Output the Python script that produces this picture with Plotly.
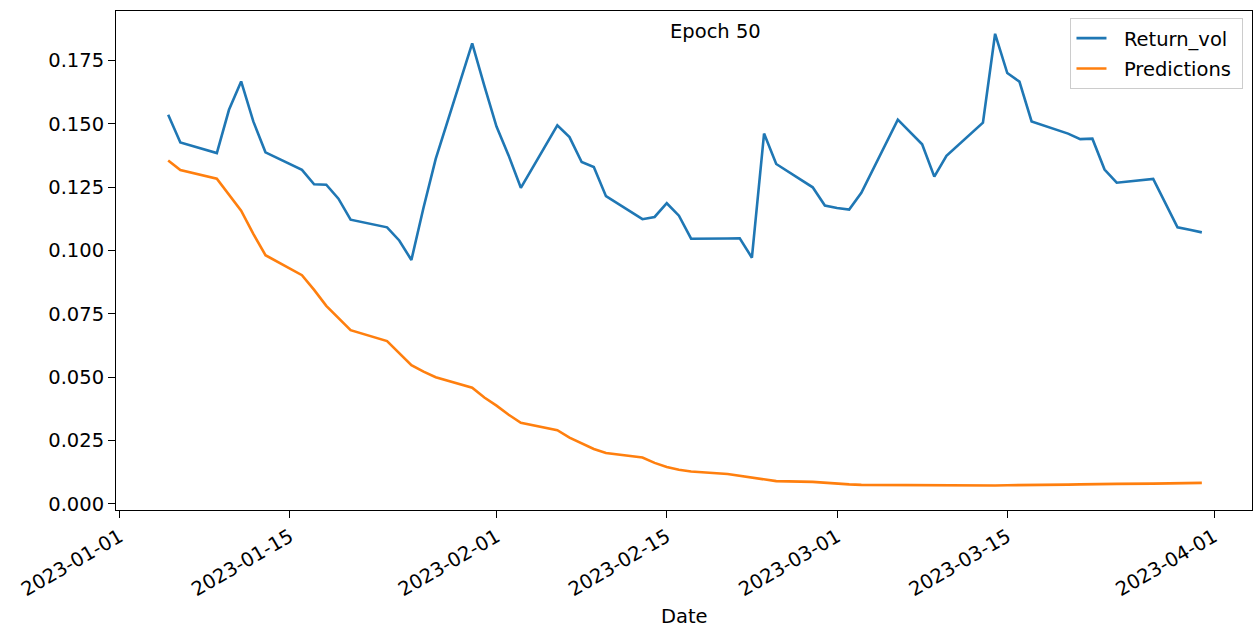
import plotly.graph_objects as go

dates = [
    "2023-01-05", "2023-01-06", "2023-01-09", "2023-01-10", "2023-01-11", "2023-01-12", "2023-01-13",
    "2023-01-16", "2023-01-17", "2023-01-18", "2023-01-19", "2023-01-20", "2023-01-23", "2023-01-24",
    "2023-01-25", "2023-01-26", "2023-01-27", "2023-01-30", "2023-01-31",
    "2023-02-01", "2023-02-02", "2023-02-03", "2023-02-06", "2023-02-07", "2023-02-08", "2023-02-09",
    "2023-02-10", "2023-02-13", "2023-02-14", "2023-02-15", "2023-02-16", "2023-02-17", "2023-02-20",
    "2023-02-21", "2023-02-22", "2023-02-23", "2023-02-24", "2023-02-27", "2023-02-28",
    "2023-03-01", "2023-03-02", "2023-03-03", "2023-03-06", "2023-03-07", "2023-03-08", "2023-03-09",
    "2023-03-10", "2023-03-13", "2023-03-14", "2023-03-15", "2023-03-16", "2023-03-17", "2023-03-20",
    "2023-03-21", "2023-03-22", "2023-03-23", "2023-03-24", "2023-03-27", "2023-03-28", "2023-03-29",
    "2023-03-30", "2023-03-31",
]

return_vol = [
    0.1536, 0.1427, 0.1385, 0.1556, 0.1668, 0.1510, 0.1388,
    0.1319, 0.1262, 0.1260, 0.1205, 0.1122, 0.1092, 0.1040,
    0.0963, 0.1170, 0.1362, 0.1818, 0.1650,
    0.1490, 0.1375, 0.1248, 0.1495, 0.1448, 0.1350, 0.1330,
    0.1215, 0.1124, 0.1133, 0.1187, 0.1138, 0.1047, 0.1048,
    0.1049, 0.0972, 0.1462, 0.1342, 0.1250, 0.1178,
    0.1168, 0.1162, 0.1228, 0.1517, 0.1470, 0.1420, 0.1292,
    0.1374, 0.1505, 0.1856, 0.1701, 0.1667, 0.1510, 0.1462,
    0.1440, 0.1442, 0.1320, 0.1268, 0.1283, 0.1190, 0.1092,
    0.1082, 0.1072,
]

predictions = [
    0.1356, 0.1318, 0.1284, 0.1222, 0.1158, 0.1066, 0.0982,
    0.0903, 0.0845, 0.0782, 0.0732, 0.0686, 0.0643, 0.0595,
    0.0548, 0.0522, 0.0500, 0.0459, 0.0420,
    0.0388, 0.0352, 0.0320, 0.0291, 0.0262, 0.0238, 0.0217,
    0.0201, 0.0183, 0.0162, 0.0146, 0.0135, 0.0128, 0.0118,
    0.0111, 0.0103, 0.0096, 0.0090, 0.0087, 0.0083,
    0.0080, 0.0077, 0.0075, 0.0074, 0.0074, 0.0073, 0.0073,
    0.0073, 0.0073, 0.0073, 0.0074, 0.0074, 0.0075, 0.0076,
    0.0077, 0.0077, 0.0078, 0.0079, 0.0080, 0.0081, 0.0082,
    0.0082, 0.0083,
]

x_tick_vals = ["2023-01-01", "2023-01-15", "2023-02-01", "2023-02-15",
               "2023-03-01", "2023-03-15", "2023-04-01"]
x_tick_text = ["2023-01-01", "2023-01-15", "2023-02-01", "2023-02-15",
               "2023-03-01", "2023-03-15", "2023-04-01"]
y_tick_vals = [0.0, 0.025, 0.05, 0.075, 0.1, 0.125, 0.15, 0.175]

FONT = "DejaVu Sans"
FS = 19.5
PAD = "\u00a0\u00a0"

fig = go.Figure()
fig.add_trace(go.Scatter(x=dates, y=return_vol, mode="lines", name=PAD + "Return_vol" + "\u00a0",
                         legendgroup="a",
                         line=dict(color="#1f77b4", width=2.6)))
fig.add_trace(go.Scatter(x=dates, y=predictions, mode="lines", name=PAD + "Predictions" + "\u00a0",
                         legendgroup="b",
                         line=dict(color="#ff7f0e", width=2.6)))

fig.update_layout(
    width=1253, height=627,
    margin=dict(l=116, r=1, t=11, b=117),
    paper_bgcolor="white", plot_bgcolor="white",
    font=dict(family=FONT, size=FS, color="#000000"),
    showlegend=True,
    legend=dict(x=0.9925, y=0.986, xanchor="right", yanchor="top",
                bgcolor="rgba(255,255,255,0.8)", bordercolor="#cccccc", borderwidth=1,
                tracegroupgap=2,
                font=dict(family=FONT, size=FS, color="#000000")),
    annotations=[
        dict(text="Epoch 50", xref="paper", yref="paper", x=0.528, y=0.959,
             xanchor="center", yanchor="middle", showarrow=False,
             font=dict(family=FONT, size=FS, color="#000000")),
        dict(text="Date", xref="paper", yref="paper", x=0.5, y=-0.2144,
             xanchor="center", yanchor="middle", showarrow=False,
             font=dict(family=FONT, size=FS, color="#000000")),
    ],
)

fig.update_xaxes(
    type="date", automargin=False,
    range=["2022-12-31 17:00", "2023-04-04 03:00"],
    tickmode="array", tickvals=x_tick_vals, ticktext=x_tick_text,
    tickangle=-30,
    ticks="outside", ticklen=7, tickwidth=1.1, tickcolor="#000000",
    showline=True, linecolor="#000000", linewidth=1.1, mirror=True,
    showgrid=False, zeroline=False,
)
fig.update_yaxes(
    automargin=False,
    range=[-0.0024, 0.1946],
    tickmode="array", tickvals=y_tick_vals, tickformat=".3f",
    ticks="outside", ticklen=7, tickwidth=1.1, tickcolor="#000000",
    showline=True, linecolor="#000000", linewidth=1.1, mirror=True,
    showgrid=False, zeroline=False,
)

fig.write_html("out.html", config={"displayModeBar": False},
               post_script="document.body.style.margin='0';document.body.style.overflow='hidden';")
